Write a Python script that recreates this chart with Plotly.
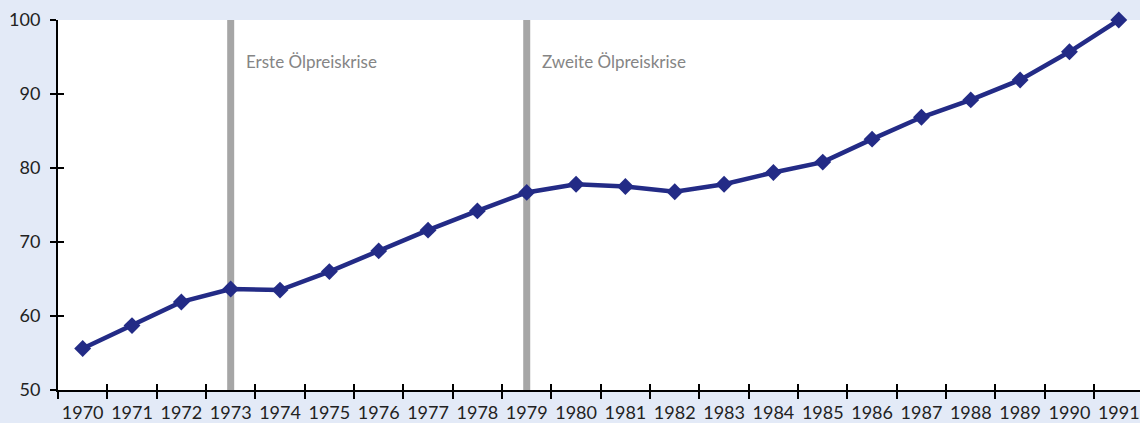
import plotly.graph_objects as go

years = [1970, 1971, 1972, 1973, 1974, 1975, 1976, 1977, 1978, 1979, 1980,
         1981, 1982, 1983, 1984, 1985, 1986, 1987, 1988, 1989, 1990, 1991]
values = [55.6, 58.7, 61.9, 63.65, 63.5, 66.0, 68.8, 71.6, 74.2, 76.7, 77.8,
          77.5, 76.8, 77.8, 79.4, 80.8, 83.9, 86.85, 89.2, 91.9, 95.7, 100.0]
crisis_years = [1973, 1979]
crisis_labels = ["Erste Ölpreiskrise", "Zweite Ölpreiskrise"]
y_ticks = [50, 60, 70, 80, 90, 100]

FONT = "Lato, 'Open Sans', sans-serif"
LINE = "#232b86"
BG = "#e3eaf7"

fig = go.Figure()
fig.add_trace(go.Scatter(
    x=years, y=values, mode="lines+markers",
    line=dict(color=LINE, width=4.5),
    marker=dict(symbol="diamond", size=13, color=LINE),
    cliponaxis=False, showlegend=False, hoverinfo="x+y",
))
# invisible trace to host the overlay axes (upper/right half of cross ticks)
fig.add_trace(go.Scatter(x=[years[0]], y=[y_ticks[0]], xaxis="x2", yaxis="y2",
                         mode="markers", marker=dict(opacity=0), showlegend=False,
                         hoverinfo="skip"))

xr = [years[0] - 0.5, years[-1] + 0.43]
yr = [y_ticks[0], y_ticks[-1]]

for yr_c, lab in zip(crisis_years, crisis_labels):
    fig.add_shape(type="line", xref="x", yref="paper", x0=yr_c, x1=yr_c, y0=0, y1=1,
                  line=dict(color="#a6a6a6", width=7), layer="below")
    fig.add_annotation(x=yr_c, xref="x", y=0.888, yref="paper", text=lab,
                       showarrow=False, xanchor="left", yanchor="middle", xshift=13,
                       font=dict(family=FONT, size=17, color="#858585"))

fig.update_layout(
    width=1140, height=423,
    margin=dict(l=58, r=0, t=20, b=33),
    paper_bgcolor=BG, plot_bgcolor="white",
    font=dict(family=FONT, size=18, color="#222222"),
    xaxis=dict(range=xr, tickmode="array", tickvals=years, ticktext=[str(y) for y in years],
               ticks="", showgrid=False, zeroline=False, showline=True,
               linecolor="black", linewidth=2, automargin=False,
               minor=dict(tick0=years[0] - 0.5, dtick=1, ticks="outside", ticklen=7,
                          tickwidth=2, tickcolor="black", showgrid=False),
               tickfont=dict(size=18), ticklabelstandoff=5),
    yaxis=dict(range=yr, tickmode="array", tickvals=y_ticks, ticks="outside", ticklen=6,
               tickwidth=2, tickcolor="black", showgrid=False, zeroline=False,
               showline=True, linecolor="black", linewidth=2, automargin=False,
               tickfont=dict(size=18), ticklabelstandoff=6),
    xaxis2=dict(overlaying="x", range=xr, anchor="y", side="bottom", showgrid=False,
                zeroline=False, showticklabels=False, tickmode="linear",
                tick0=years[0] - 0.5, dtick=1, ticks="inside", ticklen=6, tickwidth=2,
                tickcolor="black", automargin=False),
    yaxis2=dict(overlaying="y", range=yr, anchor="x", side="left", showgrid=False,
                zeroline=False, showticklabels=False, tickmode="array",
                tickvals=y_ticks, ticks="inside", ticklen=6, tickwidth=2,
                tickcolor="black", automargin=False),
)

fig.write_html("out.html", config={"displayModeBar": False},
               post_script="document.body.style.margin='0px';document.body.style.overflow='hidden';")
